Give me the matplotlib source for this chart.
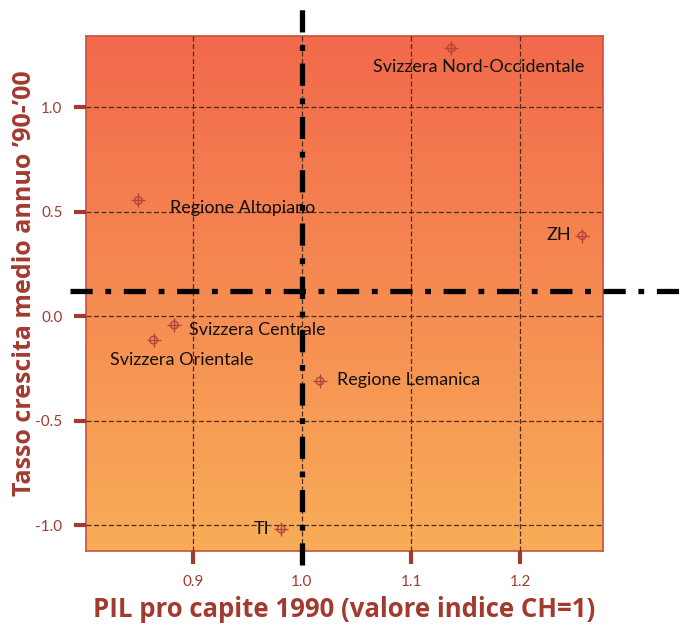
import matplotlib
matplotlib.use("Agg")
import matplotlib.pyplot as plt
import numpy as np
from matplotlib.colors import LinearSegmentedColormap

regions = ["Svizzera Nord-Occidentale", "Regione Altopiano", "ZH", "Svizzera Centrale",
           "Svizzera Orientale", "Regione Lemanica", "TI"]
pil_1990 = [1.137, 0.850, 1.257, 0.883, 0.864, 1.0165, 0.981]
crescita = [1.282, 0.553, 0.385, -0.043, -0.115, -0.311, -1.019]
label_offsets = [(-78, -19, "left"), (32, -8, "left"), (-11, 1, "right"), (15, -5, "left"),
                 (-44, -20, "left"), (17, 1, "left"), (-12, 0, "right")]
x_ticks = [0.9, 1.0, 1.1, 1.2]
y_ticks = [-1.0, -0.5, 0.0, 0.5, 1.0]
ref_x = 1.0
ref_y = 0.12

plt.rcParams['font.family'] = ['Lato', 'DejaVu Sans']
dark_red = "#a23a2f"

fig = plt.figure(figsize=(6.91, 6.25), dpi=100)
ax = fig.add_axes([0.1245, 0.1184, 0.748, 0.824])
ax.set_xlim(0.802, 1.276)
ax.set_ylim(-1.124, 1.34)

# gradient background
cmap = LinearSegmentedColormap.from_list("bg", ["#f9ad58", "#f2694b"])
grad = np.linspace(0, 1, 256).reshape(-1, 1)
ax.imshow(grad, aspect="auto", cmap=cmap, origin="lower", extent=[0, 1, 0, 1],
          transform=ax.transAxes, zorder=0)

ax.set_xticks(x_ticks)
ax.set_yticks(y_ticks)
ax.set_xticklabels([f"{v:.1f}" for v in x_ticks])
ax.set_yticklabels([f"{v:.1f}" for v in y_ticks])
ax.grid(True, linestyle=(0, (4, 2)), color="#4a2e22", linewidth=0.9, zorder=1)
ax.set_axisbelow(False)
ax.tick_params(axis="both", direction="out", length=9, width=3, color=dark_red,
               labelcolor=dark_red, labelsize=11, pad=8)
for s in ax.spines.values():
    s.set_color("#c4533e")
    s.set_linewidth(1.2)

# reference lines
ax.plot([ref_x, ref_x], [-0.027, 1.054], transform=ax.get_xaxis_transform(), color="black",
        linewidth=3.8, dashes=(4.2, 2.4, 1.1, 2.4), clip_on=False, zorder=3)
ax.plot([-0.031, 1.149], [ref_y, ref_y], transform=ax.get_yaxis_transform(), color="black",
        linewidth=3.8, dashes=(4.2, 2.4, 1.1, 2.4), clip_on=False, zorder=3)

# markers
mc = "#b5443a"
ax.scatter(pil_1990, crescita, s=30, facecolors="none", edgecolors=mc, linewidths=1.0, zorder=4)
ax.scatter(pil_1990, crescita, s=90, marker="+", color=mc, linewidths=1.0, zorder=4)

for name, x, y, (dx, dy, ha) in zip(regions, pil_1990, crescita, label_offsets):
    ax.annotate(name, (x, y), xytext=(dx, dy), textcoords="offset pixels", ha=ha, va="center",
                fontsize=13, color="#111111", zorder=5)

lab_font = dict(family=["Open Sans", "DejaVu Sans"], fontweight="bold", color=dark_red)
ax.set_xlabel("PIL pro capite 1990 (valore indice CH=1)", fontsize=18.5, **lab_font)
ax.set_ylabel("Tasso crescita medio annuo \u201990-\u201900", fontsize=18, **lab_font)
ax.xaxis.set_label_coords(0.5, -0.088)
ax.yaxis.set_label_coords(-0.095, 0.52)

fig.savefig("out.png", dpi=100)
